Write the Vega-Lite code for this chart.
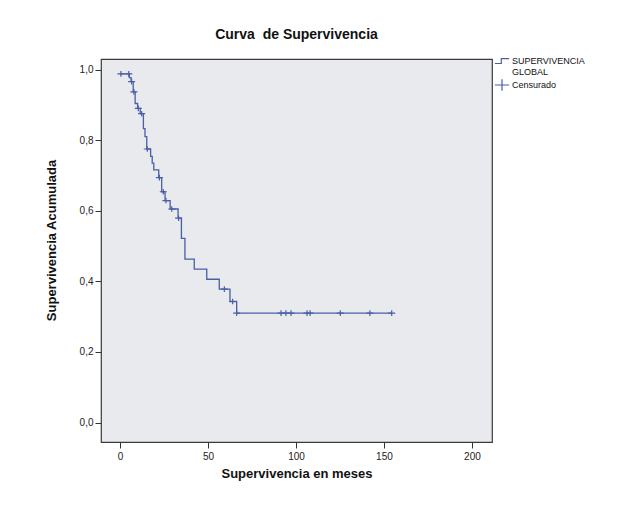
{
  "$schema": "https://vega.github.io/schema/vega-lite/v6.json",
  "width": 391,
  "height": 383,
  "autosize": {"type": "none"},
  "padding": {"left": 101, "top": 59, "right": 131, "bottom": 71},
  "background": "white",
  "config": {
    "font": "Liberation Sans",
    "view": {"stroke": "#3a3a3a", "strokeWidth": 1.2, "fill": "#e9eaed"}
  },
  "title": {"text": "Curva\u00a0 de Supervivencia", "fontSize": 14, "fontWeight": "bold", "font": "Liberation Sans", "color": "#111111", "anchor": "middle", "offset": 11},
  "datasets": {
    "curve": [
      {"t": 0, "s": 0.988},
      {"t": 5.3, "s": 0.977},
      {"t": 6.3, "s": 0.966},
      {"t": 7.5, "s": 0.937},
      {"t": 8.6, "s": 0.904},
      {"t": 10.0, "s": 0.89},
      {"t": 11.5, "s": 0.875},
      {"t": 13.3, "s": 0.833},
      {"t": 14.2, "s": 0.81},
      {"t": 15.2, "s": 0.775},
      {"t": 17.4, "s": 0.754},
      {"t": 18.3, "s": 0.735},
      {"t": 19.2, "s": 0.716},
      {"t": 22.0, "s": 0.694},
      {"t": 23.7, "s": 0.654},
      {"t": 25.6, "s": 0.629},
      {"t": 28.5, "s": 0.605},
      {"t": 33.0, "s": 0.579},
      {"t": 34.9, "s": 0.522},
      {"t": 36.9, "s": 0.463},
      {"t": 42.2, "s": 0.435},
      {"t": 49.3, "s": 0.406},
      {"t": 56.4, "s": 0.378},
      {"t": 62.5, "s": 0.343},
      {"t": 66.3, "s": 0.31},
      {"t": 154.5, "s": 0.31}
    ],
    "censor": [
      {"t": 0.5, "s": 0.988, "grp": "Censurado"},
      {"t": 5.0, "s": 0.988, "grp": "Censurado"},
      {"t": 6.6, "s": 0.966, "grp": "Censurado"},
      {"t": 7.9, "s": 0.937, "grp": "Censurado"},
      {"t": 10.4, "s": 0.89, "grp": "Censurado"},
      {"t": 12.3, "s": 0.875, "grp": "Censurado"},
      {"t": 15.5, "s": 0.775, "grp": "Censurado"},
      {"t": 22.4, "s": 0.694, "grp": "Censurado"},
      {"t": 24.6, "s": 0.654, "grp": "Censurado"},
      {"t": 26.1, "s": 0.629, "grp": "Censurado"},
      {"t": 29.4, "s": 0.605, "grp": "Censurado"},
      {"t": 33.3, "s": 0.579, "grp": "Censurado"},
      {"t": 59.3, "s": 0.378, "grp": "Censurado"},
      {"t": 64.0, "s": 0.343, "grp": "Censurado"},
      {"t": 66.3, "s": 0.31, "grp": "Censurado"},
      {"t": 91.5, "s": 0.31, "grp": "Censurado"},
      {"t": 94.3, "s": 0.31, "grp": "Censurado"},
      {"t": 97.2, "s": 0.31, "grp": "Censurado"},
      {"t": 106.3, "s": 0.31, "grp": "Censurado"},
      {"t": 108.0, "s": 0.31, "grp": "Censurado"},
      {"t": 125.2, "s": 0.31, "grp": "Censurado"},
      {"t": 142.0, "s": 0.31, "grp": "Censurado"},
      {"t": 154.4, "s": 0.31, "grp": "Censurado"}
    ]
  },
  "layer": [
    {
      "data": {"name": "curve"},
      "mark": {"type": "line", "interpolate": "step-after", "color": "#4a5ea8", "strokeWidth": 1.3},
      "encoding": {
        "x": {
          "field": "t", "type": "quantitative",
          "scale": {"domain": [-10.8, 211.4], "nice": false, "zero": false},
          "axis": {
            "values": [0, 50, 100, 150, 200], "domain": false, "grid": false,
            "tickSize": 6, "tickColor": "#333333", "labelFontSize": 10, "labelColor": "#222222", "labelPadding": 3,
            "title": "Supervivencia en meses", "titleFontSize": 13, "titleFontWeight": "bold", "titleColor": "#111111",
            "titleY": 31, "titleBaseline": "middle"
          }
        },
        "y": {
          "field": "s", "type": "quantitative",
          "scale": {"domain": [-0.055, 1.03], "nice": false, "zero": false},
          "axis": {
            "values": [0, 0.2, 0.4, 0.6, 0.8, 1.0], "domain": false, "grid": false,
            "tickSize": 6, "tickColor": "#333333", "labelFontSize": 10, "labelColor": "#222222", "labelPadding": 2,
            "labelExpr": "replace(format(datum.value, '.1f'), '.', ',')",
            "title": "Supervivencia Acumulada", "titleFontSize": 13, "titleFontWeight": "bold", "titleColor": "#111111",
            "titleX": -50, "titleY": 181, "titleBaseline": "middle"
          }
        }
      }
    },
    {
      "data": {"name": "censor"},
      "mark": {"type": "point", "filled": false, "color": "#4a5ea8", "size": 49, "strokeWidth": 1.2, "opacity": 1},
      "encoding": {
        "x": {"field": "t", "type": "quantitative"},
        "y": {"field": "s", "type": "quantitative"},
        "shape": {
          "field": "grp", "type": "nominal",
          "scale": {
            "domain": ["SUPERVIVENCIA GLOBAL", "Censurado"],
            "range": ["M-1,0.35L-0.1,0.35L-0.1,-0.35L1,-0.35", "M-1,0L1,0M0,-0.8L0,0.8"]
          },
          "legend": {
            "orient": "none", "legendX": 393, "legendY": -6, "title": null,
            "labelFontSize": 9, "labelColor": "#111111", "labelLimit": 200, "labelOffset": 2,
            "symbolSize": 200, "symbolStrokeWidth": 1.2, "symbolStrokeColor": "#4a5ea8", "symbolFillColor": "transparent",
            "rowPadding": -8,
            "labelExpr": "datum.label == 'SUPERVIVENCIA GLOBAL' ? ['SUPERVIVENCIA', 'GLOBAL'] : datum.label"
          }
        }
      }
    }
  ]
}
